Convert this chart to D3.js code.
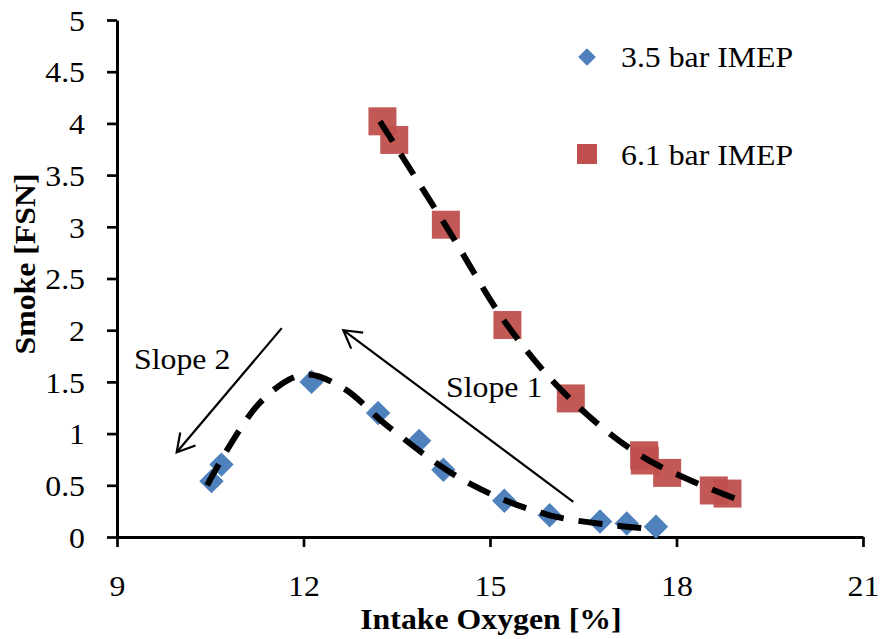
<!DOCTYPE html>
<html>
<head>
<meta charset="utf-8">
<script src="https://cdn.jsdelivr.net/npm/d3@7"></script>
<style>
  body { margin: 0; background: #fff; }
  svg text { font-family: "Liberation Serif", "Times New Roman", Times, serif; }
</style>
</head>
<body>
<div class="chart"></div>
<script>
/* data */
const lowLoadO2 = [10.52, 10.68, 12.13, 13.20, 13.86, 14.25, 15.23, 15.96, 16.77, 17.20, 17.67];
const lowLoadFSN = [0.54, 0.70, 1.50, 1.20, 0.93, 0.65, 0.35, 0.21, 0.15, 0.13, 0.10];
const highLoadO2 = [13.27, 13.46, 14.29, 15.28, 16.30, 17.48, 17.49, 17.85, 18.60, 18.82];
const highLoadFSN = [4.02, 3.84, 3.02, 2.05, 1.34, 0.79, 0.74, 0.62, 0.45, 0.42];

/* dashed trend curves */
const lowFitO2 = [10.45, 11.3, 12.0, 12.64, 13.34, 14.57, 15.96, 17.6];
const lowFitFSN = [0.50, 1.30, 1.57, 1.44, 1.08, 0.55, 0.21, 0.08];
const highFitO2 = [13.23, 14.3, 15.3, 16.3, 17.5, 18.95];
const highFitFSN = [4.02, 3.00, 2.03, 1.33, 0.76, 0.37];

const xTicks = [9, 12, 15, 18, 21];
const yTicks = [0, 0.5, 1, 1.5, 2, 2.5, 3, 3.5, 4, 4.5, 5];
const seriesNames = ["3.5 bar IMEP", "6.1 bar IMEP"];

/* annotation arrows: [x0, y0, x1, y1] in data units, head at the end */
const slope1Arrow = [16.34, 0.34, 12.64, 2.00];
const slope2Arrow = [11.65, 2.02, 9.96, 0.82];

const width = 880, height = 639;
const blue = "#4f81bd", red = "#c0504d";
const fontSize = "30px";

const svg = d3.select(".chart").append("svg")
    .attr("width", width).attr("height", height);

const x = d3.scaleLinear().domain([9, 21]).range([117, 863]);
const y = d3.scaleLinear().domain([0, 5]).range([537, 20]);

/* text in the source is a bit wider than plain Times */
function stretch(sel, k) {
    sel.each(function() {
        const w = this.getComputedTextLength();
        d3.select(this).attr("textLength", w * k).attr("lengthAdjust", "spacingAndGlyphs");
    });
}

/* axes */
const xAxis = svg.append("g")
    .attr("transform", `translate(0,${y(0)})`)
    .call(d3.axisBottom(x).tickValues(xTicks).tickSize(10).tickSizeOuter(0).tickPadding(28));
const yAxis = svg.append("g")
    .attr("transform", `translate(${x(9)},0)`)
    .call(d3.axisLeft(y).tickValues(yTicks).tickSize(10).tickSizeOuter(0).tickPadding(22)
        .tickFormat(d3.format("")));

[xAxis, yAxis].forEach(g => {
    g.attr("font-family", null);
    g.select(".domain").attr("stroke", "#000").attr("stroke-width", 3);
    g.selectAll(".tick line").attr("stroke", "#000").attr("stroke-width", 2.7);
    g.selectAll(".tick text")
        .attr("fill", "#000")
        .style("font-size", fontSize);
});
yAxis.selectAll(".tick text").attr("dy", "0.34em");

/* markers */
const lowPts = lowLoadO2.map((d, i) => [d, lowLoadFSN[i]]);
const highPts = highLoadO2.map((d, i) => [d, highLoadFSN[i]]);

svg.append("g").selectAll("rect")
    .data(highPts).join("rect")
    .attr("x", d => x(d[0]) - 14)
    .attr("y", d => y(d[1]) - 14)
    .attr("width", 28).attr("height", 28)
    .attr("fill", red).attr("fill-opacity", 0.95);

const diamond = d3.symbol().type(d3.symbolDiamond2).size(380);
svg.append("g").selectAll("path")
    .data(lowPts).join("path")
    .attr("d", diamond)
    .attr("transform", d => `translate(${x(d[0])},${y(d[1])})`)
    .attr("fill", blue);

/* trend lines */
const lineGen = d3.line()
    .x(d => x(d[0]))
    .y(d => y(d[1]))
    .curve(d3.curveCatmullRom);

const fits = [
    lowFitO2.map((d, i) => [d, lowFitFSN[i]]),
    highFitO2.map((d, i) => [d, highFitFSN[i]])
];
svg.append("g").selectAll("path")
    .data(fits).join("path")
    .attr("d", lineGen)
    .attr("fill", "none")
    .attr("stroke", "#000")
    .attr("stroke-width", 6)
    .attr("stroke-dasharray", "24,15");

/* arrows */
function drawArrow(a) {
    const x0 = x(a[0]), y0 = y(a[1]), x1 = x(a[2]), y1 = y(a[3]);
    const ang = Math.atan2(y1 - y0, x1 - x0);
    const len = 20, spread = Math.PI / 6;
    const g = svg.append("g").attr("stroke", "#000").attr("stroke-width", 2.2).attr("fill", "none");
    g.append("line").attr("x1", x0).attr("y1", y0).attr("x2", x1).attr("y2", y1);
    g.append("path").attr("d",
        `M${x1 - len * Math.cos(ang - spread)},${y1 - len * Math.sin(ang - spread)}` +
        `L${x1},${y1}` +
        `L${x1 - len * Math.cos(ang + spread)},${y1 - len * Math.sin(ang + spread)}`);
}
drawArrow(slope1Arrow);
drawArrow(slope2Arrow);

svg.append("text").attr("x", 446).attr("y", 397)
    .style("font-size", fontSize).text("Slope 1");
svg.append("text").attr("x", 134).attr("y", 369)
    .style("font-size", fontSize).text("Slope 2");

/* legend */
const legend = svg.append("g");
legend.append("path")
    .attr("d", d3.symbol().type(d3.symbolDiamond2).size(200))
    .attr("transform", "translate(587,57)")
    .attr("fill", blue);
legend.append("rect")
    .attr("x", 577).attr("y", 144).attr("width", 20).attr("height", 20)
    .attr("fill", red);
legend.selectAll("text")
    .data(seriesNames).join("text")
    .attr("x", 621)
    .attr("y", (d, i) => 67 + i * 98)
    .style("font-size", fontSize)
    .text(d => d);

/* axis titles */
svg.append("text")
    .attr("x", 491).attr("y", 629)
    .attr("text-anchor", "middle")
    .style("font-size", fontSize).style("font-weight", "bold")
    .text("Intake Oxygen [%]");
svg.append("text")
    .attr("transform", "translate(35,264) rotate(-90)")
    .attr("text-anchor", "middle")
    .style("font-size", fontSize).style("font-weight", "bold")
    .text("Smoke [FSN]");

stretch(svg.selectAll("text"), 1.06);
</script>
</body>
</html>
